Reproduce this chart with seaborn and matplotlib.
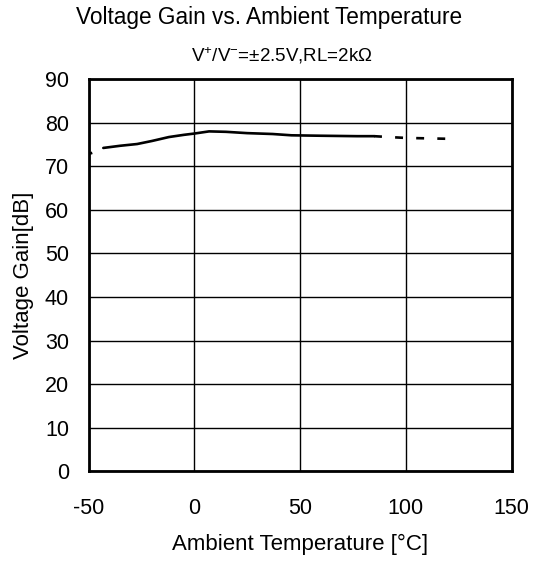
import pandas as pd
import matplotlib
matplotlib.use('Agg')
import matplotlib.pyplot as plt
import seaborn as sns

# Данные
temp_solid = [-43, -35, -27, -20, -12, -5, 0, 7, 15, 25, 37, 46, 60, 77, 85]
gain_solid = [74.2, 74.7, 75.1, 75.8, 76.7, 77.2, 77.5, 78.0, 77.9, 77.6, 77.4, 77.1, 77.0, 76.9, 76.9]
temp_dash = [85, 92, 100, 110, 120]
gain_dash = [76.9, 76.7, 76.5, 76.4, 76.3]
temp_edge = [-50, -45]
gain_edge = [72.8, 73.6]

x_ticks = [-50, 0, 50, 100, 150]
y_ticks = [0, 10, 20, 30, 40, 50, 60, 70, 80, 90]

sns.set_style('white')
plt.rcParams['font.family'] = ['Liberation Sans', 'DejaVu Sans']
plt.rcParams['mathtext.fontset'] = 'custom'
plt.rcParams['mathtext.rm'] = 'Liberation Sans'
plt.rcParams['mathtext.it'] = 'Liberation Sans'
plt.rcParams['axes.unicode_minus'] = False
plt.rcParams['text.color'] = 'black'
plt.rcParams['axes.labelcolor'] = 'black'

fig = plt.figure(figsize=(5.43, 5.61), dpi=100)
ax = fig.add_axes([0.163, 0.160, 0.779, 0.699])

solid = pd.DataFrame({'t': temp_solid, 'g': gain_solid})
dash = pd.DataFrame({'t': temp_dash, 'g': gain_dash})
edge = pd.DataFrame({'t': temp_edge, 'g': gain_edge})

sns.lineplot(data=solid, x='t', y='g', ax=ax, color='black', linewidth=1.9)
sns.lineplot(data=dash, x='t', y='g', ax=ax, color='black', linewidth=1.9,
             linestyle=(0, (3, 5)))
sns.lineplot(data=edge, x='t', y='g', ax=ax, color='black', linewidth=1.9,
             linestyle=(0, (1.5, 4)))

ax.set_xlim(-50, 150)
ax.set_ylim(0, 90)
ax.set_xticks(x_ticks)
ax.set_yticks(y_ticks)
ax.grid(True, color='black', linewidth=1.0)
ax.set_axisbelow(True)
for s in ax.spines.values():
    s.set_visible(True)
    s.set_color('black')
    s.set_linewidth(2.0)

ax.tick_params(axis='both', labelsize=15.5, length=0, colors='black')
ax.tick_params(axis='x', pad=19)
ax.tick_params(axis='y', pad=14)
ax.set_xlabel('Ambient Temperature [°C]', fontsize=16, labelpad=11)
ax.set_ylabel('Voltage Gain[dB]', fontsize=16, labelpad=8)

fig.text(0.495, 0.968, 'Voltage Gain vs. Ambient Temperature', ha='center', va='center', fontsize=16.3)
fig.text(0.52, 0.900, r'V$^{+}$/V$^{-}$=±2.5V,RL=2kΩ', ha='center', va='center', fontsize=13.5)

fig.savefig('out.png', dpi=100)
